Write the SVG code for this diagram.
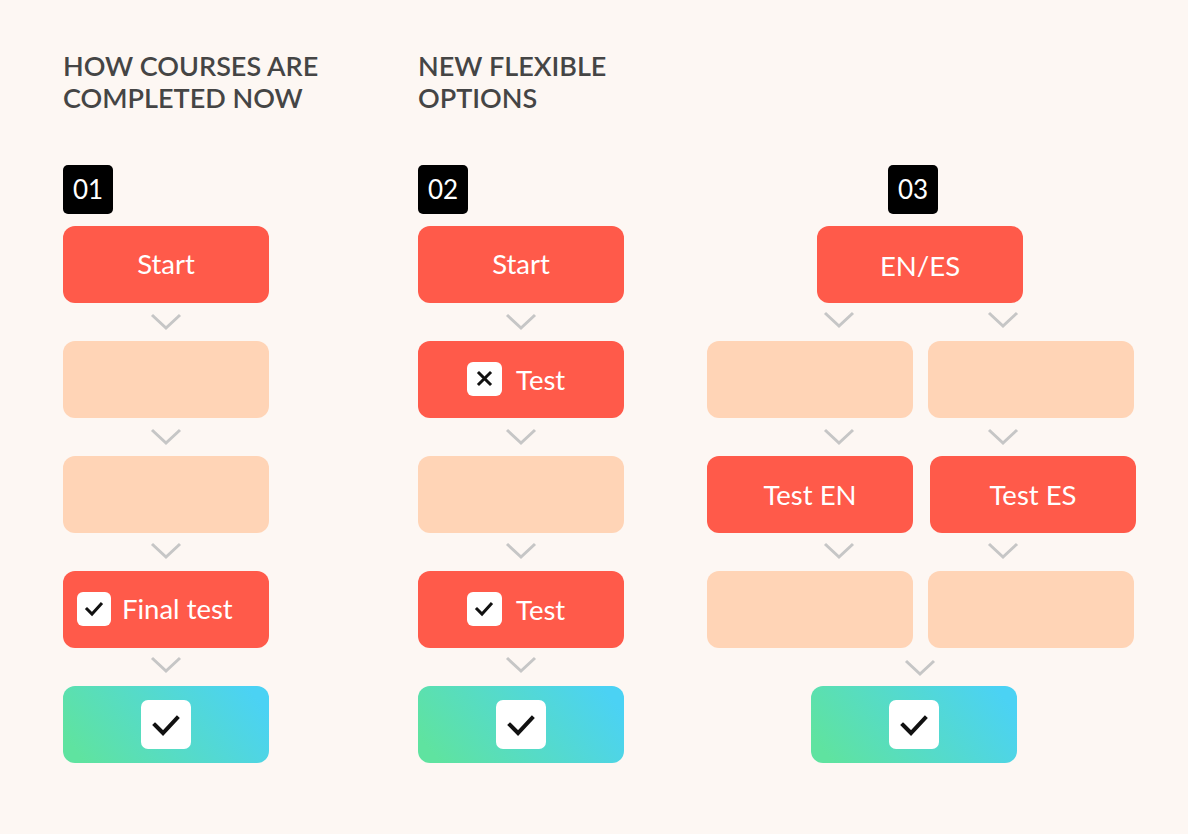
<svg xmlns="http://www.w3.org/2000/svg" width="1188" height="834" viewBox="0 0 1188 834">
<defs>
<linearGradient id="grn" x1="0" y1="0.65" x2="1" y2="0.35">
<stop offset="0" stop-color="#5FE3A0"/>
<stop offset="1" stop-color="#4BD2F4"/>
</linearGradient>
<style>
.title{font-family:Lato,"Liberation Sans",sans-serif;font-size:27px;font-weight:600;fill:#454545}
.badge{fill:#000}
.btxt{font-family:Lato,"Liberation Sans",sans-serif;font-size:26px;fill:#fff;text-anchor:middle}
.red{fill:#FF5A4A}
.peach{fill:#FFD4B6}
.lbl{font-family:Lato,"Liberation Sans",sans-serif;font-size:27.5px;fill:#fff}
.mid{text-anchor:middle}
.icon{fill:#fff}
.mark{fill:none;stroke:#111;stroke-width:3;stroke-linecap:square}
.bigmark{fill:none;stroke:#111;stroke-width:4;stroke-linecap:square}
.chev{fill:none;stroke:#C6C6C6;stroke-width:3}
</style>
</defs>
<rect width="1188" height="834" fill="#FDF7F3"/>

<text class="title" x="63" y="76">HOW COURSES ARE</text>
<text class="title" x="63" y="108">COMPLETED NOW</text>
<text class="title" x="418" y="76">NEW FLEXIBLE</text>
<text class="title" x="418" y="108">OPTIONS</text>

<g id="badge01"><rect class="badge" x="63" y="165" width="50" height="49" rx="5"/><text class="btxt" x="88" y="199">01</text></g>
<g id="badge02"><rect class="badge" x="418" y="165" width="50" height="49" rx="5"/><text class="btxt" x="443" y="199">02</text></g>
<g id="badge03"><rect class="badge" x="888" y="165" width="50" height="49" rx="5"/><text class="btxt" x="913" y="199">03</text></g>

<!-- column 1 -->
<g id="c1-start"><rect class="red" x="63" y="226" width="206" height="77" rx="12"/><text class="lbl mid" x="166" y="274">Start</text></g>
<g id="c1-step1"><rect class="peach" x="63" y="341" width="206" height="77" rx="12"/></g>
<g id="c1-step2"><rect class="peach" x="63" y="456" width="206" height="77" rx="12"/></g>
<g id="c1-final"><rect class="red" x="63" y="571" width="206" height="77" rx="12"/>
<rect class="icon" x="77" y="592" width="34" height="34" rx="6"/><path class="mark" d="M87 609 L92 614 L101 604"/>
<text class="lbl" x="122" y="619">Final test</text></g>
<g id="c1-done"><rect fill="url(#grn)" x="63" y="686" width="206" height="77" rx="12"/>
<rect class="icon" x="141" y="700" width="50" height="49" rx="7"/><path class="bigmark" d="M155 725 L163 733 L177 718"/></g>

<!-- column 2 -->
<g id="c2-start"><rect class="red" x="418" y="226" width="206" height="77" rx="12"/><text class="lbl mid" x="521" y="274">Start</text></g>
<g id="c2-test1"><rect class="red" x="418" y="341" width="206" height="77" rx="12"/>
<rect class="icon" x="467" y="362" width="35" height="34" rx="6"/><path class="mark" d="M479 373 L490 384 M490 373 L479 384"/>
<text class="lbl" x="516" y="390">Test</text></g>
<g id="c2-step"><rect class="peach" x="418" y="456" width="206" height="77" rx="12"/></g>
<g id="c2-test2"><rect class="red" x="418" y="571" width="206" height="77" rx="12"/>
<rect class="icon" x="467" y="592" width="35" height="34" rx="6"/><path class="mark" d="M477 609 L482 614 L491 604"/>
<text class="lbl" x="516" y="620">Test</text></g>
<g id="c2-done"><rect fill="url(#grn)" x="418" y="686" width="206" height="77" rx="12"/>
<rect class="icon" x="496" y="700" width="50" height="49" rx="7"/><path class="bigmark" d="M510 725 L518 733 L532 718"/></g>

<!-- column 3 -->
<g id="c3-lang"><rect class="red" x="817" y="226" width="206" height="77" rx="12"/><text class="lbl mid" x="920" y="276">EN/ES</text></g>
<g id="c3-en1"><rect class="peach" x="707" y="341" width="206" height="77" rx="12"/></g>
<g id="c3-es1"><rect class="peach" x="928" y="341" width="206" height="77" rx="12"/></g>
<g id="c3-testen"><rect class="red" x="707" y="456" width="206" height="77" rx="12"/><text class="lbl mid" x="810" y="505">Test EN</text></g>
<g id="c3-testes"><rect class="red" x="930" y="456" width="206" height="77" rx="12"/><text class="lbl mid" x="1033" y="505">Test ES</text></g>
<g id="c3-en2"><rect class="peach" x="707" y="571" width="206" height="77" rx="12"/></g>
<g id="c3-es2"><rect class="peach" x="928" y="571" width="206" height="77" rx="12"/></g>
<g id="c3-done"><rect fill="url(#grn)" x="811" y="686" width="206" height="77" rx="12"/>
<rect class="icon" x="889" y="700" width="50" height="49" rx="7"/><path class="bigmark" d="M903 725 L911 733 L925 718"/></g>

<g id="connectors">
<path class="chev" d="M152 315 L166 328 L180 315"/>
<path class="chev" d="M152 430 L166 443 L180 430"/>
<path class="chev" d="M152 544 L166 557 L180 544"/>
<path class="chev" d="M152 658 L166 671 L180 658"/>
<path class="chev" d="M507 315 L521 328 L535 315"/>
<path class="chev" d="M507 430 L521 443 L535 430"/>
<path class="chev" d="M507 544 L521 557 L535 544"/>
<path class="chev" d="M507 658 L521 671 L535 658"/>
<path class="chev" d="M825 313 L839 326 L853 313"/>
<path class="chev" d="M989 313 L1003 326 L1017 313"/>
<path class="chev" d="M825 430 L839 443 L853 430"/>
<path class="chev" d="M989 430 L1003 443 L1017 430"/>
<path class="chev" d="M825 544 L839 557 L853 544"/>
<path class="chev" d="M989 544 L1003 557 L1017 544"/>
<path class="chev" d="M906 661 L920 674 L934 661"/>
</g>
</svg>
